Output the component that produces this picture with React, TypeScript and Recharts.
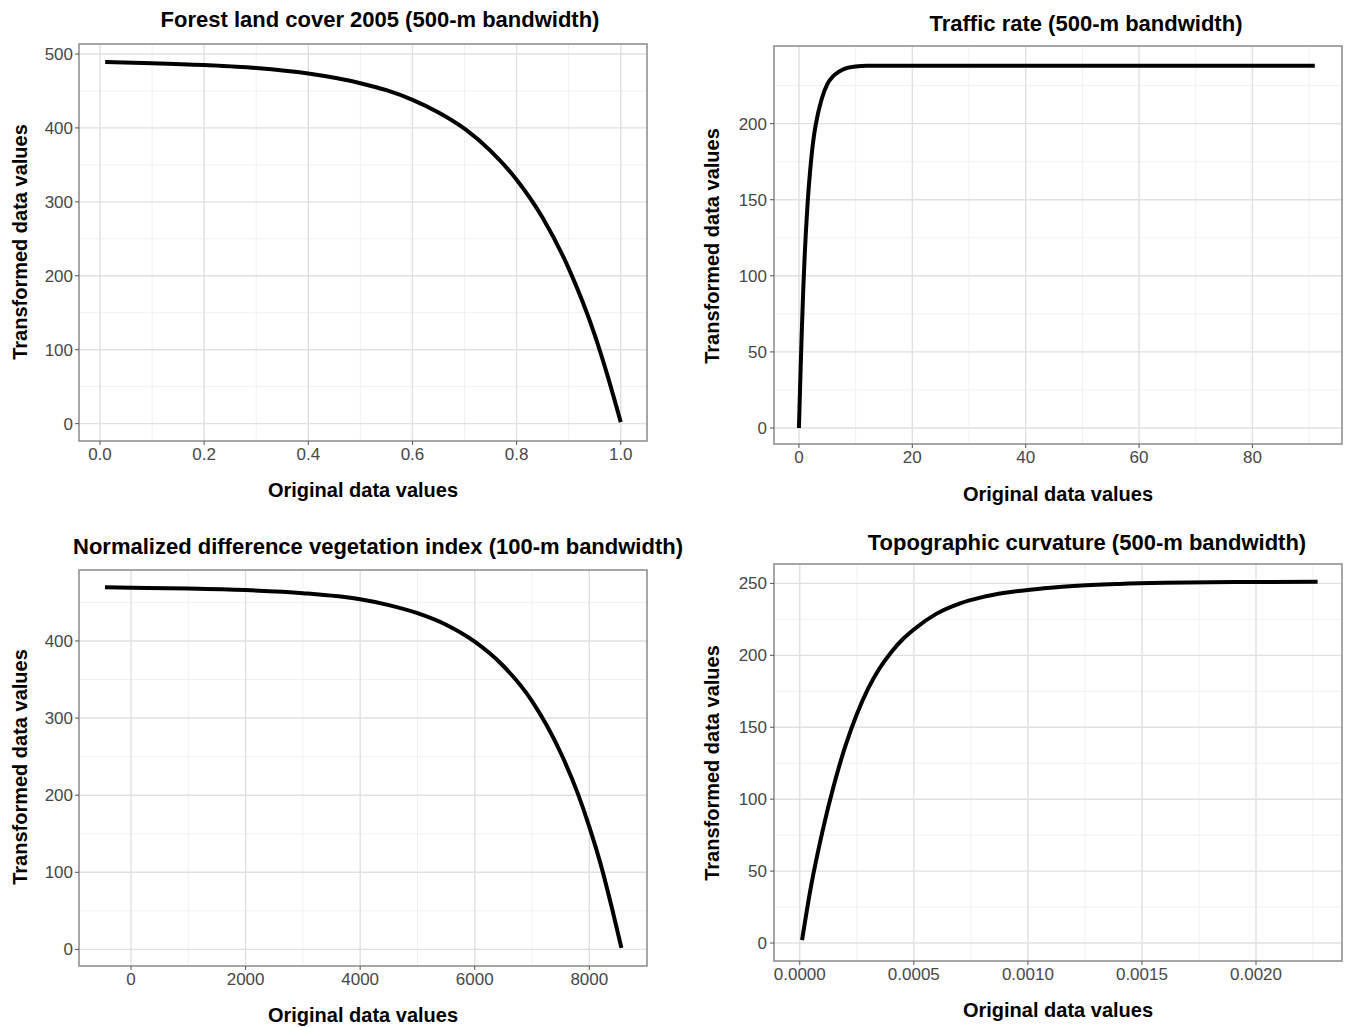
import React from "react";
import { LineChart, Line, XAxis, YAxis, CartesianGrid, ReferenceArea } from "recharts";

// Forest land cover 2005 (500-m bandwidth)
const forestX = [0.01, 0.1, 0.2, 0.3, 0.4, 0.5, 0.55, 0.6, 0.65, 0.7, 0.75, 0.8, 0.85, 0.9, 0.95, 0.975, 1.0];
const forestY = [489, 487.5, 485, 481, 473.5, 460.5, 451, 438, 421, 399, 369, 330, 278.5, 210, 120, 64, 2];
const forestXTicks = [0, 0.2, 0.4, 0.6, 0.8, 1.0];
const forestYTicks = [0, 100, 200, 300, 400, 500];
const forestXMinor = [0.1, 0.3, 0.5, 0.7, 0.9];
const forestYMinor = [50, 150, 250, 350, 450];

// Traffic rate (500-m bandwidth)
const trafficX = [0, 0.25, 0.5, 0.75, 1, 1.5, 2, 2.5, 3, 4, 5, 6, 7, 8, 10, 12, 15, 20, 30, 50, 70, 91];
const trafficY = [0, 33, 63, 90, 112, 146, 170, 188, 200, 216, 226, 231, 234, 236, 237.5, 238, 238, 238, 238, 238, 238, 238];
const trafficXTicks = [0, 20, 40, 60, 80];
const trafficYTicks = [0, 50, 100, 150, 200];
const trafficXMinor = [10, 30, 50, 70, 90];
const trafficYMinor = [25, 75, 125, 175, 225];

// Normalized difference vegetation index (100-m bandwidth)
const ndviX = [-455, 0, 1000, 2000, 3000, 4000, 4500, 5000, 5500, 6000, 6500, 7000, 7500, 7800, 8000, 8200, 8400, 8560];
const ndviY = [469.5, 469, 468, 466, 462, 454, 446.5, 436, 421, 399, 367.5, 322, 255, 202, 159, 110, 52, 2];
const ndviXTicks = [0, 2000, 4000, 6000, 8000];
const ndviYTicks = [0, 100, 200, 300, 400];
const ndviXMinor = [1000, 3000, 5000, 7000, 9000];
const ndviYMinor = [50, 150, 250, 350, 450];

// Topographic curvature (500-m bandwidth)
const curvX = [0.00001, 0.00005, 0.0001, 0.00015, 0.0002, 0.00025, 0.0003, 0.00035, 0.0004, 0.00045, 0.0005, 0.0006, 0.0007, 0.0008, 0.0009, 0.001, 0.0011, 0.0012, 0.0014, 0.0016, 0.0018, 0.002, 0.00227];
const curvY = [2, 40, 78, 110, 137, 159, 177, 191, 202, 211, 218, 229, 236, 240.5, 243.5, 245.5, 247, 248.2, 249.6, 250.4, 250.8, 251, 251.2];
const curvXTicks = [0, 0.0005, 0.001, 0.0015, 0.002];
const curvYTicks = [0, 50, 100, 150, 200, 250];
const curvXMinor = [0.00025, 0.00075, 0.00125, 0.00175, 0.00225];
const curvYMinor = [25, 75, 125, 175, 225];

const FONT = "'Liberation Sans', Arial, Helvetica, sans-serif";

type PanelProps = {
  xs: number[];
  ys: number[];
  xDomain: [number, number];
  yDomain: [number, number];
  xTicks: number[];
  yTicks: number[];
  xMinor: number[];
  yMinor: number[];
  fmt: (v: number) => string;
  left: number;
  top: number;
  width: number;
  height: number;
  margin: { top: number; right: number; bottom: number; left: number };
  yTickMargin?: number;
};

function Panel(p: PanelProps) {
  const data = p.xs.map((x, i) => ({ x, y: p.ys[i] }));
  const tick = { fill: "#474747", fontSize: 17, fontFamily: FONT };
  return (
    <div style={{ position: "absolute", left: p.left, top: p.top, width: p.width, height: p.height }}>
      <LineChart width={p.width} height={p.height} data={data} margin={p.margin}>
        {/* minor grid */}
        <CartesianGrid
          horizontalValues={p.yMinor}
          verticalValues={p.xMinor}
          stroke="#f0f0f0"
          strokeWidth={1}
          syncWithTicks={false}
        />
        {/* major grid */}
        <CartesianGrid
          horizontalValues={p.yTicks}
          verticalValues={p.xTicks}
          stroke="#e0e0e0"
          strokeWidth={1.4}
          syncWithTicks={false}
        />
        <XAxis
          type="number"
          dataKey="x"
          domain={p.xDomain}
          ticks={p.xTicks}
          interval={0}
          allowDataOverflow
          tickFormatter={p.fmt}
          tick={tick}
          tickSize={4}
          tickMargin={3}
          tickLine={{ stroke: "#555555" }}
          axisLine={false}
          height={30}
        />
        <YAxis
          type="number"
          domain={p.yDomain}
          ticks={p.yTicks}
          interval={0}
          allowDataOverflow
          tick={tick}
          tickSize={4}
          tickMargin={p.yTickMargin ?? 2}
          tickLine={{ stroke: "#555555" }}
          axisLine={false}
          width={50}
        />
        <ReferenceArea
          x1={p.xDomain[0]}
          x2={p.xDomain[1]}
          y1={p.yDomain[0]}
          y2={p.yDomain[1]}
          fill="none"
          fillOpacity={0}
          stroke="#8a8a8a"
          strokeWidth={1.5}
        />
        <Line
          type="monotone"
          dataKey="y"
          stroke="#000000"
          strokeWidth={4}
          dot={false}
          activeDot={false}
          isAnimationActive={false}
        />
      </LineChart>
    </div>
  );
}

const titleStyle = { fontFamily: FONT, fontWeight: 700, fontSize: 22, fill: "#000" } as const;
const axisStyle = { fontFamily: FONT, fontWeight: 700, fontSize: 20, fill: "#000" } as const;

export default function App() {
  return (
    <div style={{ position: "absolute", left: 0, top: 0, width: 1346, height: 1028, background: "#fff" }}>
      <Panel
        xs={forestX}
        ys={forestY}
        xDomain={[-0.0403, 1.0504]}
        yDomain={[-23.5, 513.5]}
        xTicks={forestXTicks}
        yTicks={forestYTicks}
        xMinor={forestXMinor}
        yMinor={forestYMinor}
        fmt={(v) => v.toFixed(1)}
        left={0}
        top={0}
        width={670}
        height={480}
        margin={{ top: 44, left: 29, right: 23, bottom: 9 }}
      />
      <Panel
        xs={trafficX}
        ys={trafficY}
        xDomain={[-4.4, 95.8]}
        yDomain={[-10.5, 251]}
        xTicks={trafficXTicks}
        yTicks={trafficYTicks}
        xMinor={trafficXMinor}
        yMinor={trafficYMinor}
        fmt={(v) => String(v)}
        left={680}
        top={0}
        width={666}
        height={480}
        margin={{ top: 46, left: 44, right: 4, bottom: 6 }}
        yTickMargin={3}
      />
      <Panel
        xs={ndviX}
        ys={ndviY}
        xDomain={[-908, 9007]}
        yDomain={[-21.5, 492]}
        xTicks={ndviXTicks}
        yTicks={ndviYTicks}
        xMinor={ndviXMinor}
        yMinor={ndviYMinor}
        fmt={(v) => String(v)}
        left={0}
        top={520}
        width={670}
        height={500}
        margin={{ top: 50, left: 29, right: 23, bottom: 24 }}
      />
      <Panel
        xs={curvX}
        ys={curvY}
        xDomain={[-0.000113, 0.002377]}
        yDomain={[-12.5, 263.5]}
        xTicks={curvXTicks}
        yTicks={curvYTicks}
        xMinor={curvXMinor}
        yMinor={curvYMinor}
        fmt={(v) => v.toFixed(4)}
        left={680}
        top={520}
        width={666}
        height={500}
        margin={{ top: 44, left: 44, right: 4, bottom: 29 }}
        yTickMargin={3}
      />

      <svg
        width={1346}
        height={1028}
        style={{ position: "absolute", left: 0, top: 0, pointerEvents: "none" }}
      >
        <text x={380} y={27} textAnchor="middle" style={titleStyle}>
          Forest land cover 2005 (500-m bandwidth)
        </text>
        <text x={1086} y={31} textAnchor="middle" style={titleStyle}>
          Traffic rate (500-m bandwidth)
        </text>
        <text x={378} y={554} textAnchor="middle" style={titleStyle}>
          Normalized difference vegetation index (100-m bandwidth)
        </text>
        <text x={1087} y={550} textAnchor="middle" style={titleStyle}>
          Topographic curvature (500-m bandwidth)
        </text>

        <text x={363} y={497} textAnchor="middle" style={axisStyle}>Original data values</text>
        <text x={1058} y={501} textAnchor="middle" style={axisStyle}>Original data values</text>
        <text x={363} y={1022} textAnchor="middle" style={axisStyle}>Original data values</text>
        <text x={1058} y={1017} textAnchor="middle" style={axisStyle}>Original data values</text>

        <text x={20} y={242} textAnchor="middle" dominantBaseline="central" transform="rotate(-90 20 242)" style={axisStyle}>
          Transformed data values
        </text>
        <text x={712} y={246} textAnchor="middle" dominantBaseline="central" transform="rotate(-90 712 246)" style={axisStyle}>
          Transformed data values
        </text>
        <text x={20} y={767} textAnchor="middle" dominantBaseline="central" transform="rotate(-90 20 767)" style={axisStyle}>
          Transformed data values
        </text>
        <text x={712} y={763} textAnchor="middle" dominantBaseline="central" transform="rotate(-90 712 763)" style={axisStyle}>
          Transformed data values
        </text>
      </svg>
    </div>
  );
}
